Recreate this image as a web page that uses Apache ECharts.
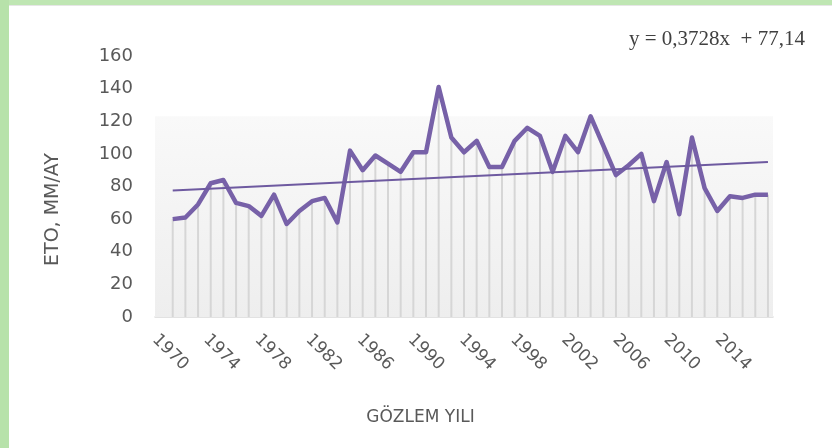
<!DOCTYPE html>
<html>
<head>
<meta charset="utf-8">
<script src="https://cdn.jsdelivr.net/npm/echarts@6/dist/echarts.min.js"></script>
<style>
  html, body { margin: 0; padding: 0; background: #fff; }
  #main { width: 832px; height: 448px; }
</style>
</head>
<body>
<div id="main"></div>
<script>
// yillar (1970 - 2017)
var years = [1970,1971,1972,1973,1974,1975,1976,1977,1978,1979,
             1980,1981,1982,1983,1984,1985,1986,1987,1988,1989,
             1990,1991,1992,1993,1994,1995,1996,1997,1998,1999,
             2000,2001,2002,2003,2004,2005,2006,2007,2008,2009,
             2010,2011,2012,2013,2014,2015,2016,2017];
// ETo, mm/ay
var eto = [60,61,69,82,84,70,68,62,75,57,
           65,71,73,58,102,90,99,94,89,101,
           101,141,110,101,108,92,92,108,116,111,
           89,111,101,123,105,87,93,100,71,95,
           63,110,79,65,74,73,75,75];
var yTicks = [0,20,40,60,80,100,120,140,160];
// trend: y = 0,3728x + 77,14
var slope = 0.3728, intercept = 77.14;

var chart = echarts.init(document.getElementById('main'));
var font = 'DejaVu Sans';
var points = years.map(function (y, i) { return [y, eto[i]]; });
var n = years.length;

var option = {
    animation: false,
    title: {
        text: 'y = 0,3728x  + 77,14',
        left: 624, top: 24,
        textStyle: { fontFamily: 'Liberation Serif', fontWeight: 'normal', fontSize: 21, color: '#404040' }
    },
    graphic: [
        { type: 'rect', left: 0, top: 0, shape: { width: 832, height: 5 }, style: { fill: '#bfe6b3' } },
        { type: 'rect', left: 0, top: 0, shape: { width: 9, height: 448 }, style: { fill: '#b7e2aa' } },
        { type: 'rect', left: 9, top: 5, shape: { width: 823, height: 1 }, style: { fill: '#e6e6e6' } }
    ],
    grid: [
        { left: 155, right: 59, top: 56, bottom: 131 },
        { left: 155, right: 76, top: 56, bottom: 131 }
    ],
    xAxis: [{
        type: 'value',
        gridIndex: 0,
        min: 1968.6, max: 2017.4,
        axisLine: { show: true, lineStyle: { color: '#d9d9d9', width: 1.5 } },
        axisTick: { show: false },
        axisLabel: { show: false },
        splitLine: { show: false }
    }, {
        type: 'category',
        gridIndex: 1,
        data: years,
        boundaryGap: false,
        axisLine: { show: false },
        axisTick: { show: false },
        splitLine: { show: false },
        axisLabel: {
            interval: 3, rotate: -45, margin: 20,
            fontFamily: font, fontSize: 17, color: '#595959'
        },
        name: 'GÖZLEM YILI',
        nameLocation: 'middle',
        nameGap: 92,
        nameTextStyle: { fontFamily: font, fontSize: 17, color: '#595959', padding: [0, 70, 0, 0] }
    }],
    yAxis: [{
        type: 'value',
        gridIndex: 0,
        min: yTicks[0], max: yTicks[yTicks.length - 1], interval: 20,
        axisLine: { show: false },
        axisTick: { show: false },
        splitLine: { show: false },
        axisLabel: { margin: 22, fontFamily: font, fontSize: 18, color: '#595959' },
        name: 'ETO, MM/AY',
        nameLocation: 'middle',
        nameRotate: 90,
        nameGap: 92,
        nameTextStyle: { fontFamily: font, fontSize: 19, color: '#595959', padding: [0, 46, 0, 0] }
    }, {
        type: 'value',
        gridIndex: 1,
        show: false, min: 0, max: 160
    }],
    series: [{
        type: 'bar',
        xAxisIndex: 0, yAxisIndex: 0,
        data: points,
        barWidth: 2,
        itemStyle: { color: '#d6d6d6' },
        silent: true,
        markArea: {
            silent: true,
            itemStyle: {
                color: new echarts.graphic.LinearGradient(0, 0, 0, 1, [
                    { offset: 0, color: '#f9f9f9' },
                    { offset: 1, color: '#eeeeee' }
                ])
            },
            data: [[{ yAxis: 0 }, { yAxis: 123 }]]
        }
    }, {
        type: 'line',
        xAxisIndex: 0, yAxisIndex: 0,
        data: points,
        symbol: 'none',
        z: 4,
        lineStyle: { color: '#7761a8', width: 4.5, join: 'round' }
    }, {
        type: 'line',
        xAxisIndex: 0, yAxisIndex: 0,
        data: [],
        markLine: {
            silent: true,
            symbol: 'none',
            label: { show: false },
            lineStyle: { color: '#6e5aa0', width: 2, type: 'solid' },
            data: [[
                { coord: [years[0], slope * 1 + intercept] },
                { coord: [years[n - 1], slope * n + intercept] }
            ]]
        }
    }]
};
chart.setOption(option);
</script>
</body>
</html>
